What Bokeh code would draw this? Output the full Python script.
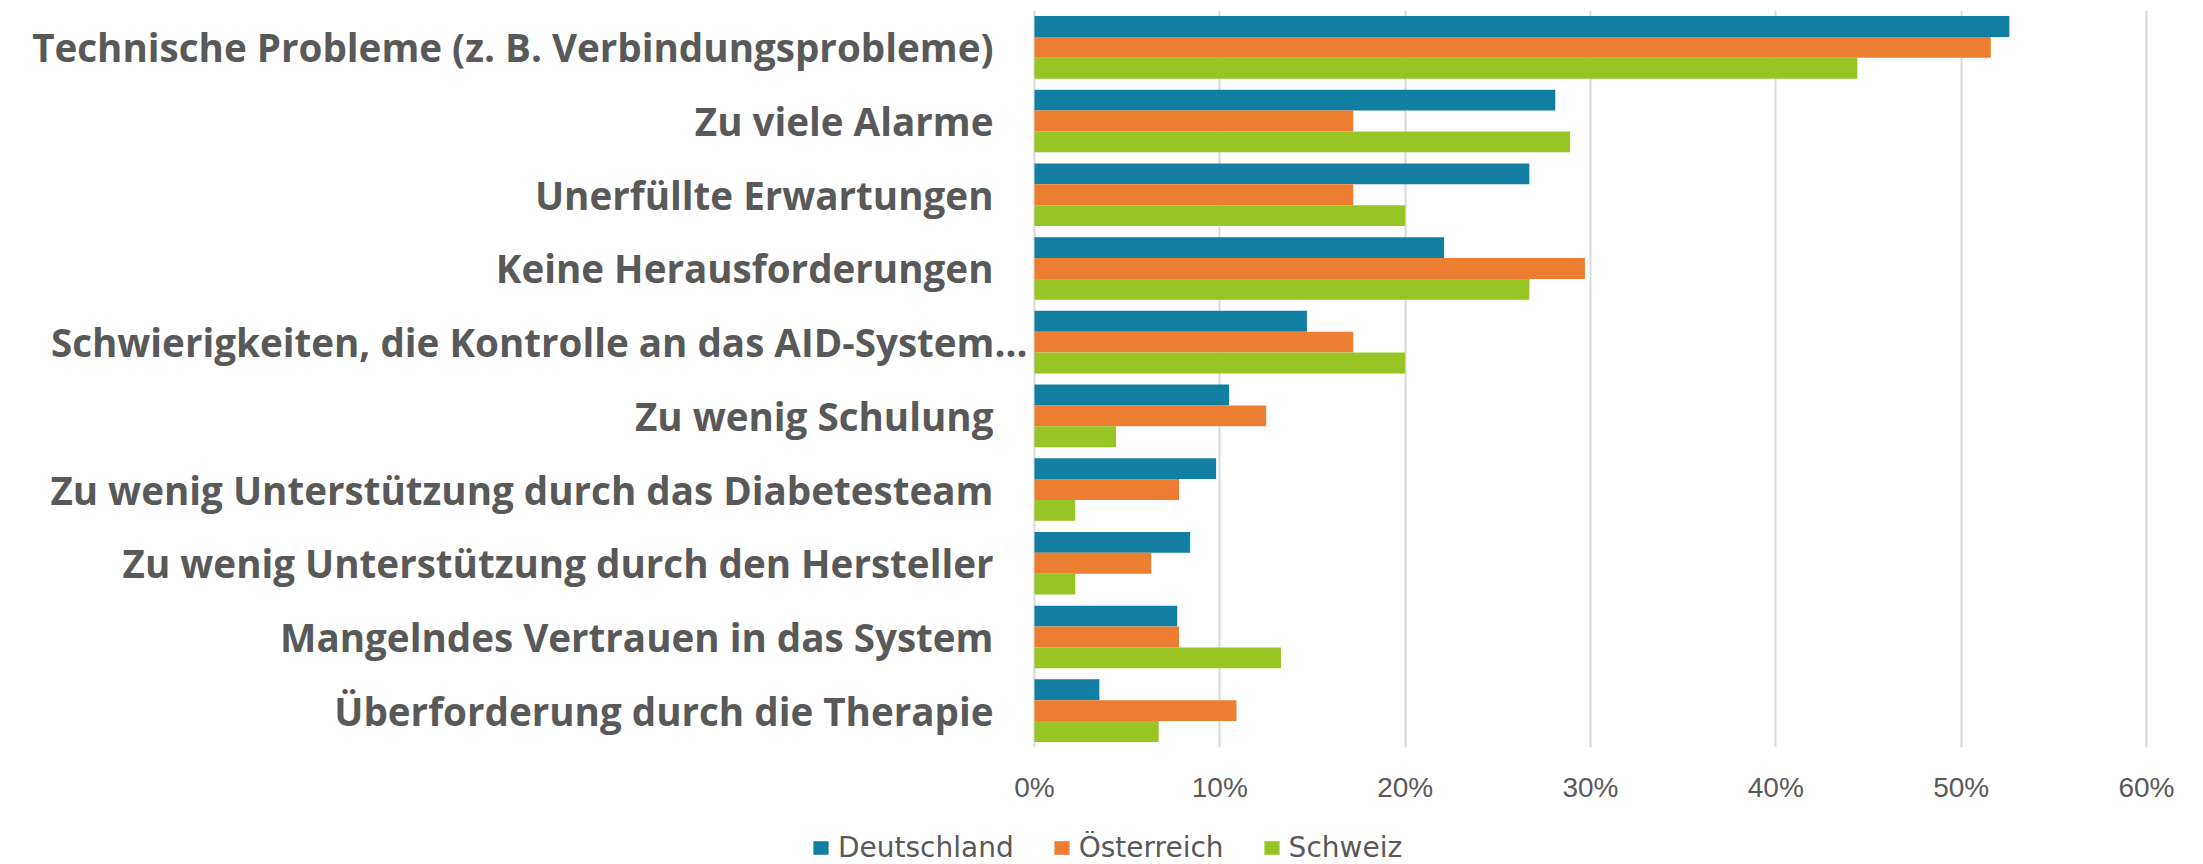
from bokeh.plotting import figure
from bokeh.layouts import column
from bokeh.models import (FactorRange, Range1d, FixedTicker, PrintfTickFormatter,
                          Legend, LegendItem, ColumnDataSource)
from bokeh.transform import dodge
from bokeh.core.properties import value
from bokeh.embed import file_html
from bokeh.resources import INLINE

# ---------------- data ----------------
categories = [
    "Technische Probleme (z. B. Verbindungsprobleme)",
    "Zu viele Alarme",
    "Unerfüllte Erwartungen",
    "Keine Herausforderungen",
    "Schwierigkeiten, die Kontrolle an das AID-System...",
    "Zu wenig Schulung",
    "Zu wenig Unterstützung durch das Diabetesteam",
    "Zu wenig Unterstützung durch den Hersteller",
    "Mangelndes Vertrauen in das System",
    "Überforderung durch die Therapie",
]
series_names = ["Deutschland", "Österreich", "Schweiz"]
deutschland = [52.6, 28.1, 26.7, 22.1, 14.7, 10.5, 9.8, 8.4, 7.7, 3.5]
oesterreich = [51.6, 17.2, 17.2, 29.7, 17.2, 12.5, 7.8, 6.3, 7.8, 10.9]
schweiz = [44.4, 28.9, 20.0, 26.7, 20.0, 4.4, 2.2, 2.2, 13.3, 6.7]
x_ticks = [0, 10, 20, 30, 40, 50, 60]

# ---------------- style / layout ----------------
colors = ["#117EA2", "#ED7D31", "#98C424"]
text_grey = "#595959"
W = 2203
H_chart, H_legend = 831, 33
frame_top, frame_bottom = 10, 747
zero_px = 1034          # horizontal pixel of 0 % inside the figure
px_per_unit = 18.533    # pixels per percentage point
x_start = -zero_px / px_per_unit
x_end = (W - zero_px) / px_per_unit

group_width = 0.85
bar_h = group_width / 3

src = ColumnDataSource(dict(
    cat=categories,
    D=deutschland,
    O=oesterreich,
    S=schweiz,
    xo=[-7 if c.endswith("...") else -41 for c in categories],
))

p = figure(
    width=W, height=H_chart,
    y_range=FactorRange(*categories[::-1]),
    x_range=Range1d(x_start, x_end),
    output_backend="svg", toolbar_location=None,
    y_axis_location=None,
    min_border_left=0, min_border_right=0,
    min_border_top=frame_top, min_border_bottom=H_chart - frame_bottom,
)
p.outline_line_color = None
p.background_fill_color = "white"
p.border_fill_color = "white"

for i, (field, col) in enumerate(zip(["D", "O", "S"], colors)):
    p.hbar(y=dodge("cat", bar_h * (1 - i), range=p.y_range), left=0, right=field,
           height=bar_h, source=src, fill_color=col, line_color=None)

# category labels
p.text(x=0, y="cat", text="cat", x_offset="xo", source=src,
       text_align="right", text_baseline="middle",
       text_font=value("Open Sans"), text_font_style="bold",
       text_font_size="38.6px", text_color=text_grey)

# x axis
ticker = FixedTicker(ticks=x_ticks)
p.xaxis.ticker = ticker
p.xgrid.ticker = ticker
p.xaxis.formatter = PrintfTickFormatter(format="%d%%")
p.xaxis.axis_line_color = None
p.xaxis.major_tick_line_color = None
p.xaxis.minor_tick_line_color = None
p.xaxis.major_tick_out = 0
p.xaxis.minor_tick_out = 0
p.xaxis.major_label_text_font = "Liberation Sans"
p.xaxis.major_label_text_font_size = "28px"
p.xaxis.major_label_text_color = text_grey
p.xaxis.major_label_standoff = 24
p.xgrid.grid_line_color = "#D9D9D9"
p.xgrid.grid_line_width = 2
p.ygrid.grid_line_color = None

# ---------------- legend strip ----------------
lg = figure(width=W, height=H_legend, x_range=Range1d(0, 1), y_range=Range1d(0, 1),
            output_backend="svg", toolbar_location=None,
            x_axis_location=None, y_axis_location=None,
            min_border_left=0, min_border_right=0, min_border_top=0, min_border_bottom=0)
lg.outline_line_color = None
lg.border_fill_color = "white"
lg.background_fill_color = "white"
lg.xgrid.grid_line_color = None
lg.ygrid.grid_line_color = None
# zero-width proxies, only used to give the legend its swatches
proxy = ColumnDataSource(dict(y=[0.5], right=[0]))
legend_renderers = [lg.hbar(y="y", right="right", left=0, height=0, source=proxy,
                            fill_color=c, line_color=None) for c in colors]

legend = Legend(
    items=[LegendItem(label=n, renderers=[r]) for n, r in zip(series_names, legend_renderers)],
    location=(811, 0), orientation="horizontal",
    label_text_font="DejaVu Sans", label_text_font_size="28px",
    label_text_color=text_grey, glyph_width=19, glyph_height=17,
    label_standoff=8, spacing=38, padding=0, margin=0,
    border_line_color=None, background_fill_alpha=0,
)
lg.add_layout(legend)

open("out.html", "w").write(file_html(column(p, lg, spacing=0), INLINE))
